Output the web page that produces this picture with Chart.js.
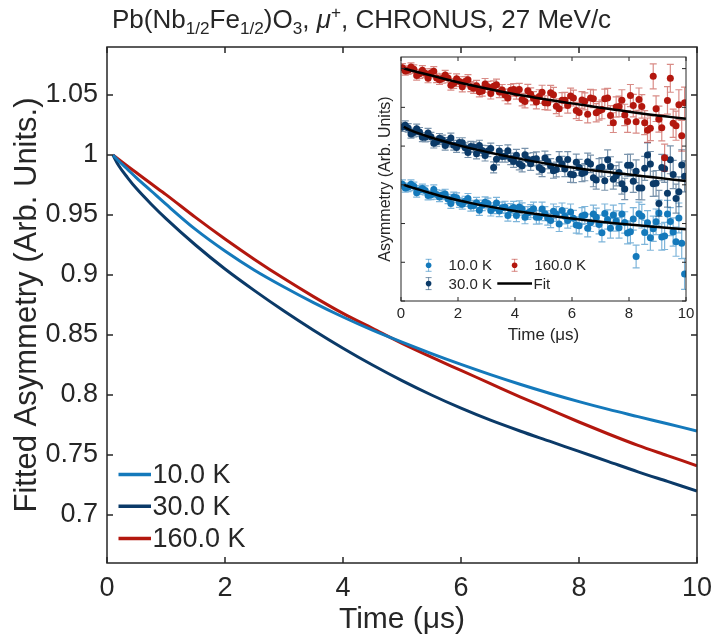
<!DOCTYPE html>
<html>
<head>
<meta charset="utf-8">
<script src="https://cdn.jsdelivr.net/npm/chart.js@4.4.1/dist/chart.umd.min.js"></script>
<style>
  body { margin: 0; background: #fff; }
  #wrap { position: relative; width: 711px; height: 640px; background: #fff; }
  #main { position: absolute; left: 0; top: 0; }
  #inset { position: absolute; left: 372px; top: 50px; }
  #title { position: absolute; left: 112px; top: 4px; font: 26px/30px "Liberation Sans", Arial, sans-serif; color: #262626; white-space: nowrap; }
  #title sub, #title sup { font-size: 0.66em; line-height: 0; }
</style>
</head>
<body>
<div id="wrap">
  <canvas id="main" width="711" height="640"></canvas>
  <canvas id="inset" width="322" height="300"></canvas>
  <div id="title">Pb(Nb<sub>1/2</sub>Fe<sub>1/2</sub>)O<sub>3</sub>, <i>μ</i><sup>+</sup>, CHRONUS, 27 MeV/c</div>
</div>
<script>
// fitted curves (main plot), times in microseconds
const fitTime = [0.1, 0.2, 0.35, 0.5, 0.75, 1, 1.5, 2, 2.5, 3, 3.5, 4, 4.5, 5, 5.5, 6, 6.5, 7, 7.5, 8, 8.5, 9, 9.5, 10];
const fit10K  = [1.000, 0.995, 0.988, 0.981, 0.970, 0.959, 0.938, 0.920, 0.904, 0.890, 0.877, 0.865, 0.854, 0.844,
  0.8345, 0.8255, 0.817, 0.809, 0.8015, 0.7945, 0.788, 0.782, 0.776, 0.770];
const fit30K  = [1.000, 0.991, 0.981, 0.972, 0.959, 0.947, 0.925, 0.905, 0.887, 0.870, 0.854, 0.839, 0.825, 0.812,
  0.800, 0.789, 0.779, 0.770, 0.7615, 0.753, 0.7445, 0.736, 0.728, 0.720];
const fit160K = [1.000, 0.9963, 0.9907, 0.9852, 0.976, 0.967, 0.948, 0.930, 0.913, 0.897, 0.882, 0.868, 0.8555, 0.843,
  0.8315, 0.8205, 0.8095, 0.7985, 0.788, 0.7775, 0.7675, 0.758, 0.7495, 0.741];
const seriesNames = ["10.0 K", "30.0 K", "160.0 K"];
const seriesColors = ["#1479bb", "#0b3a68", "#b3170e"];
const barColors = ["rgba(20,121,187,0.55)", "rgba(11,58,104,0.55)", "rgba(179,23,14,0.5)"];

// inset: offsets of the three fit curves, and the measured points (two interleaved sets)
const insetOffset = [0, 0.3, 0.6];
const timeA = [0.05, 0.25, 0.45, 0.65, 0.85, 1.05, 1.25, 1.45, 1.65, 1.85,
  2.05, 2.25, 2.45, 2.65, 2.85, 3.05, 3.25, 3.45, 3.65, 3.85,
  4.05, 4.25, 4.45, 4.65, 4.85, 5.05, 5.25, 5.45, 5.65, 5.85,
  6.05, 6.25, 6.45, 6.65, 6.85, 7.05, 7.25, 7.45, 7.65, 7.85,
  8.05, 8.25, 8.45, 8.65, 8.85, 9.05, 9.25, 9.45, 9.65, 9.95];
const errA = [0.022, 0.022, 0.022, 0.023, 0.023, 0.023, 0.024, 0.024, 0.024, 0.025,
  0.025, 0.026, 0.026, 0.027, 0.027, 0.028, 0.028, 0.029, 0.030, 0.030,
  0.031, 0.032, 0.033, 0.034, 0.035, 0.036, 0.037, 0.038, 0.039, 0.040,
  0.041, 0.042, 0.044, 0.045, 0.047, 0.048, 0.050, 0.051, 0.053, 0.055,
  0.057, 0.059, 0.061, 0.063, 0.065, 0.067, 0.070, 0.072, 0.075, 0.080];
const a10K = [1.003, 0.987, 0.992, 0.973, 0.971, 0.947, 0.950, 0.947, 0.927, 0.937,
  0.908, 0.915, 0.890, 0.908, 0.894, 0.903, 0.879, 0.865, 0.885, 0.873,
  0.841, 0.875, 0.854, 0.877, 0.833, 0.851, 0.816, 0.849, 0.867, 0.816,
  0.827, 0.789, 0.844, 0.804, 0.833, 0.753, 0.821, 0.844, 0.778, 0.806,
  0.757, 0.630, 0.838, 0.804, 0.773, 0.854, 0.736, 0.810, 0.706, 0.540];
const a30K = [1.298, 1.294, 1.270, 1.273, 1.245, 1.248, 1.223, 1.233, 1.220, 1.204,
  1.218, 1.191, 1.198, 1.161, 1.177, 1.174, 1.090, 1.174, 1.147, 1.134,
  1.152, 1.099, 1.131, 1.132, 1.090, 1.138, 1.098, 1.079, 1.108, 1.131,
  1.052, 1.089, 1.065, 1.108, 1.025, 1.092, 1.130, 1.029, 1.064, 0.979,
  1.101, 1.070, 0.983, 1.154, 1.005, 0.904, 1.083, 1.129, 0.929, 1.044];
const a160K = [1.604, 1.592, 1.597, 1.573, 1.576, 1.577, 1.552, 1.549, 1.551, 1.523,
  1.533, 1.533, 1.507, 1.512, 1.485, 1.506, 1.509, 1.479, 1.464, 1.488,
  1.473, 1.440, 1.486, 1.447, 1.456, 1.424, 1.476, 1.406, 1.437, 1.410,
  1.448, 1.374, 1.431, 1.448, 1.372, 1.389, 1.448, 1.321, 1.405, 1.361,
  1.461, 1.326, 1.405, 1.282, 1.560, 1.339, 1.140, 1.550, 1.305, 1.424];
const timeB = [0.15, 0.35, 0.55, 0.75, 0.95, 1.15, 1.35, 1.55, 1.75, 1.95,
  2.15, 2.35, 2.55, 2.75, 2.95, 3.15, 3.35, 3.55, 3.75, 3.95,
  4.15, 4.35, 4.55, 4.75, 4.95, 5.15, 5.35, 5.55, 5.75, 5.95,
  6.15, 6.35, 6.55, 6.75, 6.95, 7.15, 7.35, 7.55, 7.75, 7.95,
  8.15, 8.35, 8.55, 8.75, 8.95, 9.15, 9.35, 9.55, 9.75, 9.85];
const errB = [0.022, 0.022, 0.023, 0.023, 0.023, 0.024, 0.024, 0.024, 0.025, 0.025,
  0.026, 0.026, 0.027, 0.027, 0.028, 0.028, 0.029, 0.029, 0.030, 0.031,
  0.032, 0.033, 0.034, 0.035, 0.036, 0.037, 0.038, 0.039, 0.040, 0.041,
  0.042, 0.043, 0.045, 0.046, 0.048, 0.049, 0.051, 0.052, 0.054, 0.056,
  0.058, 0.060, 0.062, 0.064, 0.066, 0.068, 0.071, 0.073, 0.077, 0.079];
const b10K = [0.984, 1.003, 0.959, 0.981, 0.945, 0.976, 0.937, 0.953, 0.903, 0.933,
  0.900, 0.929, 0.893, 0.869, 0.910, 0.867, 0.906, 0.882, 0.842, 0.883,
  0.885, 0.832, 0.864, 0.832, 0.875, 0.829, 0.863, 0.798, 0.838, 0.860,
  0.793, 0.839, 0.776, 0.849, 0.795, 0.852, 0.776, 0.813, 0.849, 0.751,
  0.824, 0.851, 0.754, 0.726, 0.809, 0.731, 0.849, 0.756, 0.829, 0.698];
const b30K = [1.308, 1.263, 1.290, 1.246, 1.268, 1.214, 1.241, 1.203, 1.242, 1.193,
  1.217, 1.167, 1.195, 1.203, 1.151, 1.187, 1.132, 1.146, 1.176, 1.121,
  1.109, 1.155, 1.109, 1.135, 1.078, 1.119, 1.072, 1.132, 1.082, 1.054,
  1.116, 1.059, 1.119, 1.036, 1.087, 1.021, 1.094, 1.047, 1.006, 1.101,
  1.019, 0.984, 1.085, 1.108, 1.008, 1.089, 0.956, 1.053, 0.964, 1.102];
const b160K = [1.588, 1.608, 1.564, 1.592, 1.550, 1.586, 1.542, 1.567, 1.514, 1.548,
  1.506, 1.543, 1.499, 1.481, 1.521, 1.471, 1.517, 1.489, 1.448, 1.492,
  1.492, 1.430, 1.467, 1.427, 1.478, 1.423, 1.465, 1.393, 1.437, 1.458,
  1.384, 1.438, 1.365, 1.444, 1.382, 1.445, 1.358, 1.402, 1.437, 1.327,
  1.409, 1.440, 1.321, 1.292, 1.393, 1.295, 1.436, 1.318, 1.414, 1.253];

const FONT = '"Liberation Sans", Arial, sans-serif';
const INK = "#262626";
Chart.defaults.font.family = FONT;
Chart.defaults.color = INK;

const pts = (xs, ys, off = 0) => xs.map((x, i) => ({ x: x, y: ys[i] + off }));

// white plot area, then a box with inward ticks on all four sides
const boxTicks = (len, width) => ({
  id: "boxTicks",
  beforeDraw(chart) {
    const { ctx, chartArea: a } = chart;
    ctx.save();
    ctx.fillStyle = "#fff";
    ctx.fillRect(a.left, a.top, a.right - a.left, a.bottom - a.top);
    ctx.restore();
  },
  afterDraw(chart) {
    const { ctx, chartArea: a, scales } = chart;
    ctx.save();
    ctx.strokeStyle = INK;
    ctx.lineWidth = width;
    ctx.beginPath();
    scales.x.ticks.forEach(t => {
      const p = scales.x.getPixelForValue(t.value);
      ctx.moveTo(p, a.bottom); ctx.lineTo(p, a.bottom - len);
      ctx.moveTo(p, a.top); ctx.lineTo(p, a.top + len);
    });
    scales.y.ticks.forEach(t => {
      const p = scales.y.getPixelForValue(t.value);
      ctx.moveTo(a.left, p); ctx.lineTo(a.left + len, p);
      ctx.moveTo(a.right, p); ctx.lineTo(a.right - len, p);
    });
    ctx.stroke();
    ctx.strokeRect(a.left, a.top, a.right - a.left, a.bottom - a.top);
    ctx.restore();
  }
});

const mainLegend = {
  id: "mainLegend",
  afterDraw(chart) {
    const { ctx, chartArea: a } = chart;
    const rows = [88.4, 56.7, 24.4];
    ctx.save();
    ctx.font = "27px " + FONT;
    ctx.textBaseline = "middle";
    ctx.fillStyle = INK;
    seriesNames.forEach((name, i) => {
      const y = a.bottom - rows[i];
      ctx.strokeStyle = seriesColors[i];
      ctx.lineWidth = 3.5;
      ctx.beginPath();
      ctx.moveTo(a.left + 11.5, y); ctx.lineTo(a.left + 44, y);
      ctx.stroke();
      ctx.fillText(name, a.left + 45.5, y + 1);
    });
    ctx.restore();
  }
};

new Chart(document.getElementById("main"), {
  type: "line",
  data: {
    datasets: [fit10K, fit30K, fit160K].map((ys, i) => ({
      label: seriesNames[i],
      data: pts(fitTime, ys),
      borderColor: seriesColors[i],
      borderWidth: 3,
      pointRadius: 0,
      cubicInterpolationMode: "monotone"
    }))
  },
  options: {
    responsive: false,
    animation: false,
    layout: { padding: { left: 0, top: 47, right: 14, bottom: 0 } },
    plugins: { legend: { display: false }, tooltip: { enabled: false } },
    scales: {
      x: {
        type: "linear", min: 0, max: 10,
        grid: { display: false, drawTicks: false }, border: { display: false },
        ticks: { stepSize: 2, padding: 9, font: { size: 27 }, color: INK },
        title: { display: true, text: "Time (μs)", font: { size: 30 }, color: INK, padding: { top: 0, bottom: 2 } },
        afterFit: s => { s.height = 77; s.paddingLeft = 0; s.paddingRight = 0; }
      },
      y: {
        min: 0.66, max: 1.09,
        grid: { display: false, drawTicks: false }, border: { display: false },
        ticks: { stepSize: 0.05, includeBounds: false, padding: 9, font: { size: 27 }, color: INK,
          callback: v => String(+v.toFixed(2)) },
        title: { display: true, text: "Fitted Asymmetry (Arb. Units.)", font: { size: 31 }, color: INK, padding: { top: 9, bottom: 0 } },
        afterFit: s => { s.width = 107; }
      }
    }
  },
  plugins: [boxTicks(6, 1.5), mainLegend]
});

// error bars, drawn just under each point series
const errorBars = {
  id: "errorBars",
  beforeDatasetDraw(chart, args) {
    const ds = chart.data.datasets[args.index];
    if (!ds.errors) return;
    const { ctx, chartArea: a } = chart;
    const ys = chart.scales.y;
    ctx.save();
    ctx.beginPath();
    ctx.rect(a.left, a.top, a.right - a.left, a.bottom - a.top);
    ctx.clip();
    ctx.strokeStyle = ds.barColor;
    ctx.lineWidth = 1.2;
    ctx.beginPath();
    args.meta.data.forEach((el, i) => {
      const v = ds.data[i].y, e = ds.errors[i];
      const top = ys.getPixelForValue(v + e), bot = ys.getPixelForValue(v - e);
      ctx.moveTo(el.x, top); ctx.lineTo(el.x, bot);
      ctx.moveTo(el.x - 3.5, top); ctx.lineTo(el.x + 3.5, top);
      ctx.moveTo(el.x - 3.5, bot); ctx.lineTo(el.x + 3.5, bot);
    });
    ctx.stroke();
    ctx.restore();
  }
};

const insetLegend = {
  id: "insetLegend",
  afterDraw(chart) {
    const { ctx, chartArea: a } = chart;
    const y1 = a.bottom - 35.7, y2 = a.bottom - 17.4;
    const marker = (x, y, i) => {
      ctx.strokeStyle = barColors[i];
      ctx.lineWidth = 1;
      ctx.beginPath();
      ctx.moveTo(x, y - 6); ctx.lineTo(x, y + 6);
      ctx.moveTo(x - 3, y - 6); ctx.lineTo(x + 3, y - 6);
      ctx.moveTo(x - 3, y + 6); ctx.lineTo(x + 3, y + 6);
      ctx.stroke();
      ctx.fillStyle = seriesColors[i];
      ctx.beginPath();
      ctx.arc(x, y, 2.8, 0, Math.PI * 2);
      ctx.fill();
    };
    ctx.save();
    ctx.font = "15px " + FONT;
    ctx.textBaseline = "middle";
    marker(a.left + 27.6, y1, 0);
    marker(a.left + 27.6, y2, 1);
    marker(a.left + 113.6, y1, 2);
    ctx.strokeStyle = "#000";
    ctx.lineWidth = 2.5;
    ctx.beginPath();
    ctx.moveTo(a.left + 96.3, y2); ctx.lineTo(a.left + 131, y2);
    ctx.stroke();
    ctx.fillStyle = INK;
    ctx.fillText(seriesNames[0], a.left + 47.6, y1 + 1);
    ctx.fillText(seriesNames[1], a.left + 47.6, y2 + 1);
    ctx.fillText(seriesNames[2], a.left + 133.3, y1 + 1);
    ctx.fillText("Fit", a.left + 132.6, y2 + 1);
    ctx.restore();
  }
};

const fitSets = [fit10K, fit30K, fit160K].map((ys, i) => ({
  label: "Fit " + seriesNames[i],
  data: pts(fitTime, ys, insetOffset[i]),
  borderColor: "#000",
  borderWidth: 2.5,
  pointRadius: 0,
  cubicInterpolationMode: "monotone"
}));
const measured = [[a10K, b10K], [a30K, b30K], [a160K, b160K]];
const pointSets = [2, 1, 0].map(i => ({
  label: seriesNames[i],
  data: pts(timeA, measured[i][0]).concat(pts(timeB, measured[i][1])),
  errors: errA.concat(errB),
  barColor: barColors[i],
  showLine: false,
  pointRadius: 3.5,
  pointBorderWidth: 0,
  pointBackgroundColor: seriesColors[i],
  borderColor: seriesColors[i]
}));

new Chart(document.getElementById("inset"), {
  type: "line",
  data: { datasets: fitSets.concat(pointSets) },
  options: {
    responsive: false,
    animation: false,
    layout: { padding: { left: 0, top: 7, right: 8, bottom: 0 } },
    plugins: { legend: { display: false }, tooltip: { enabled: false } },
    scales: {
      x: {
        type: "linear", min: 0, max: 10,
        grid: { display: false, drawTicks: false }, border: { display: false },
        ticks: { stepSize: 2, padding: 4, font: { size: 15 }, color: INK },
        title: { display: true, text: "Time (μs)", font: { size: 17 }, color: INK, padding: { top: 0, bottom: 4 } },
        afterFit: s => { s.height = 49; s.paddingLeft = 0; s.paddingRight = 0; }
      },
      y: {
        min: 0.4, max: 1.66,
        grid: { display: false, drawTicks: false }, border: { display: false },
        ticks: { stepSize: 0.2, includeBounds: false, display: false },
        title: { display: true, text: "Asymmetry (Arb. Units)", font: { size: 16 }, color: INK, padding: { top: 4, bottom: 0 } },
        afterFit: s => { s.width = 29; }
      }
    }
  },
  plugins: [boxTicks(4, 1), errorBars, insetLegend]
});
</script>
</body>
</html>
